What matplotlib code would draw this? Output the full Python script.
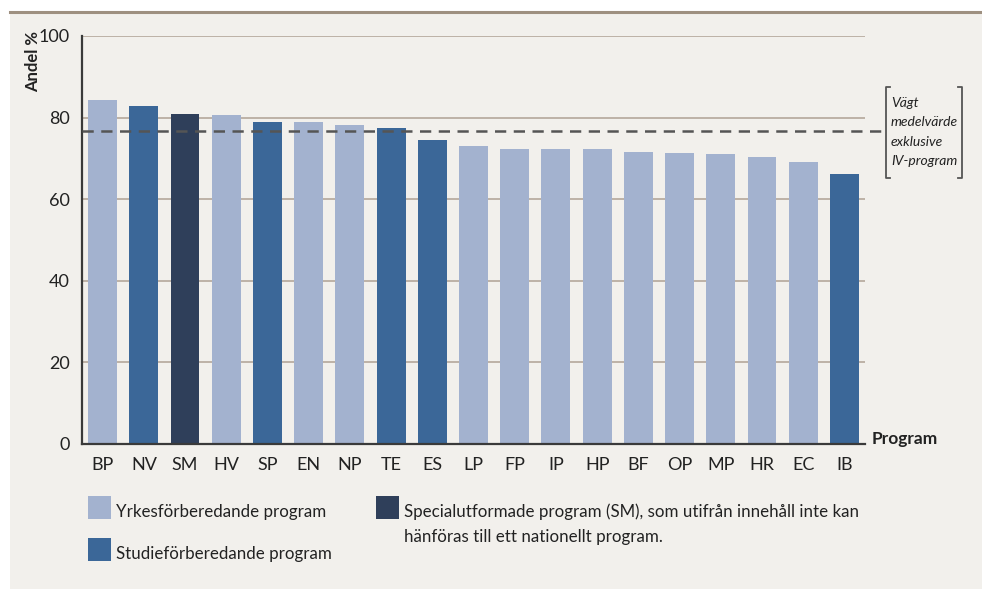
import matplotlib.pyplot as plt
from matplotlib.patches import Rectangle
from matplotlib.lines import Line2D

programs = ["BP", "NV", "SM", "HV", "SP", "EN", "NP", "TE", "ES", "LP",
            "FP", "IP", "HP", "BF", "OP", "MP", "HR", "EC", "IB"]
values = [84.3, 82.8, 80.9, 80.6, 78.9, 78.9, 78.2, 77.5, 74.5, 73.0,
          72.3, 72.3, 72.3, 71.6, 71.3, 71.1, 70.3, 69.1, 66.2]
# Y = yrkesförberedande, S = studieförberedande, X = specialutformade
kinds = ["Y", "S", "X", "Y", "S", "Y", "Y", "S", "S", "Y",
         "Y", "Y", "Y", "Y", "Y", "Y", "Y", "Y", "S"]
weighted_mean = 76.8
yticks = [0, 20, 40, 60, 80, 100]

colors = {"Y": "#a3b2cf", "S": "#3b6798", "X": "#2f3f5a"}
legend_text = {
    "Y": ["Yrkesförberedande program"],
    "S": ["Studieförberedande program"],
    "X": ["Specialutformade program (SM), som utifrån innehåll inte kan",
          "hänföras till ett nationellt program."],
}
bg = "#f2f0ec"
grid_col = "#b9ada1"
spine_col = "#3a3a3a"
txt_col = "#222222"

plt.rcParams["font.family"] = ["Lato", "DejaVu Sans"]

W, H = 982, 589
fig = plt.figure(figsize=(W / 100, H / 100), dpi=100, facecolor="white")


def fx(px):
    return px / W


def fy(py):
    return 1 - py / H


# beige panel and brown rule under the (cropped) title
fig.patches.append(Rectangle((fx(10), 0), 1 - fx(10), fy(13), transform=fig.transFigure,
                             facecolor=bg, edgecolor="none", zorder=-10))
fig.lines.append(Line2D([fx(10), 1], [fy(12), fy(12)], transform=fig.transFigure,
                        color="#9e9080", lw=2.2))

ax = fig.add_axes([fx(82), fy(444), fx(865) - fx(82), fy(36) - fy(444)])
ax.set_facecolor("none")

x = range(len(programs))
ax.bar(x, values, width=0.7, color=[colors[k] for k in kinds], zorder=3)

ax.set_xlim(-0.5, len(programs) - 0.5)
ax.set_ylim(0, 100)
ax.set_yticks(yticks)
ax.set_yticklabels([str(t) for t in yticks], fontsize=13, color=txt_col)
ax.set_xticks(list(x))
ax.set_xticklabels(programs, fontsize=13, color=txt_col)
ax.tick_params(axis="y", length=0, pad=9)
ax.tick_params(axis="x", length=0, pad=9)
for t in yticks[1:]:
    ax.axhline(t, color=grid_col, lw=1.3, zorder=1)

for s in ["top", "right"]:
    ax.spines[s].set_visible(False)
for s in ["left", "bottom"]:
    ax.spines[s].set_color(spine_col)
    ax.spines[s].set_linewidth(1.6)
ax.spines["bottom"].set_zorder(4)

# weighted mean line, running out to the bracket
ax.plot([0, 1.0255], [weighted_mean, weighted_mean], transform=ax.get_yaxis_transform(),
        color="#555555", lw=1.8, ls=(0, (4.5, 3)), clip_on=False, zorder=5)

# bracketed note
bl, br, bt, bb = fx(886), fx(962), fy(87), fy(178)
serif = fx(4)
for xs in ([bl + serif, bl, bl, bl + serif], [br - serif, br, br, br - serif]):
    fig.lines.append(Line2D(xs, [bt, bt, bb, bb], transform=fig.transFigure,
                            color="#555555", lw=1.3))
for i, line in enumerate(["Vägt", "medelvärde", "exklusive", "IV-program"]):
    fig.text(fx(891), fy(103 + i * 19.3), line, fontsize=10, style="italic",
             color=txt_col, va="center", ha="left")

fig.text(fx(33), fy(61), "Andel %", rotation=90, fontsize=12, fontweight="bold",
         color=txt_col, ha="center", va="center")
fig.text(fx(872), fy(439), "Program", fontsize=12.5, fontweight="bold",
         color=txt_col, ha="left", va="center")

# legend
legend_pos = {"Y": (88, 496), "S": (88, 538), "X": (376, 496)}
for k, (px, py) in legend_pos.items():
    fig.patches.append(Rectangle((fx(px), fy(py + 23)), fx(23), 23 / H,
                                 transform=fig.transFigure, facecolor=colors[k],
                                 edgecolor="none"))
    for j, line in enumerate(legend_text[k]):
        fig.text(fx(px + 28), fy(py + 21 + j * 25), line, fontsize=12.2, color=txt_col,
                 ha="left", va="baseline")

fig.savefig("out.png", dpi=100, facecolor="white")
